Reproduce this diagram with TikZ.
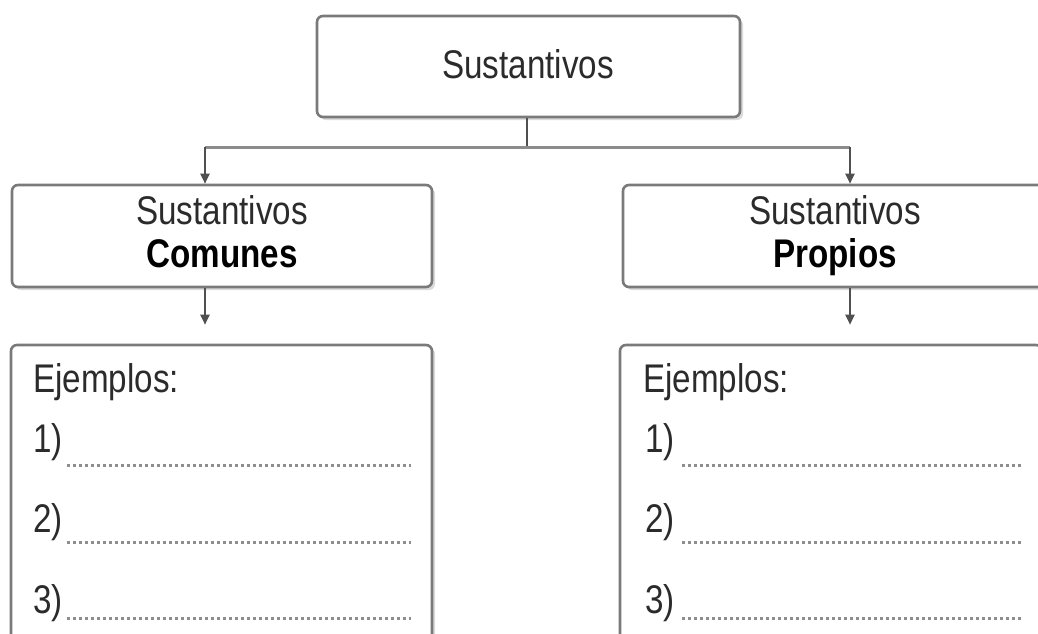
\documentclass[tikz,border=0pt]{standalone}
\usepackage{fontspec}
\setmainfont{Liberation Sans}[FakeStretch=0.83]
\usetikzlibrary{arrows.meta,shadows}
\definecolor{boxline}{HTML}{7A7A7A}
\definecolor{conn}{HTML}{505050}
\definecolor{hline}{HTML}{8C8C8C}
\definecolor{txt}{HTML}{2B2B2B}
\definecolor{dotc}{HTML}{8E8E8E}
\begin{document}
\begin{tikzpicture}[x=1pt,y=-1pt,
  box/.style={draw=boxline, line width=2.6pt, rounded corners=6pt, fill=white,
    drop shadow={shadow xshift=3pt, shadow yshift=-3pt, fill=black!14, opacity=1}},
  lbl/.style={text=txt, font=\fontsize{40}{44}\selectfont, inner sep=0pt},
  arr/.style={draw=conn, line width=2pt, -{Triangle[length=10pt,width=9pt]}},
  dotline/.style={draw=dotc, line width=3pt, dash pattern=on 3pt off 3pt}]
\useasboundingbox (0,0) rectangle (1038,633);
\clip (0,0) rectangle (1038,633);
\fill[white] (0,0) rectangle (1038,633);

% boxes
\node[box, minimum width=423pt, minimum height=101pt] (top) at (528.5,66.5) {};
\node[box, minimum width=420pt, minimum height=102pt] (cl) at (222,236) {};
\node[box, minimum width=422pt, minimum height=102pt] (cp) at (834,236) {};
\node[box, minimum width=421pt, minimum height=355pt] (el) at (221.5,522.5) {};
\node[box, minimum width=422pt, minimum height=355pt] (ep) at (831,522.5) {};

% texts
\node[lbl, anchor=base] (ttop) at (528,78) {Sustantivos};
\node[lbl, anchor=base] (tcl1) at (222,224) {Sustantivos};
\node[lbl, anchor=base] (tcl2) at (222,267) {\textbf{\color{black}Comunes}};
\node[lbl, anchor=base] (tcp1) at (835,224) {Sustantivos};
\node[lbl, anchor=base] (tcp2) at (835,267) {\textbf{\color{black}Propios}};

\node[lbl, anchor=base west] (el0) at (33,392) {Ejemplos:};
\node[lbl, anchor=base west] (el1) at (33,452) {1)};
\node[lbl, anchor=base west] (el2) at (33,532) {2)};
\node[lbl, anchor=base west] (el3) at (33,613) {3)};
\node[lbl, anchor=base west] (ep0) at (643,392) {Ejemplos:};
\node[lbl, anchor=base west] (ep1) at (645,452) {1)};
\node[lbl, anchor=base west] (ep2) at (645,532) {2)};
\node[lbl, anchor=base west] (ep3) at (645,613) {3)};

% dotted answer lines
\draw[dotline] (67,465) -- (411,465);
\draw[dotline] (67,542) -- (411,542);
\draw[dotline] (67,618) -- (411,618);
\draw[dotline] (682,465) -- (1023,465);
\draw[dotline] (682,542) -- (1023,542);
\draw[dotline] (682,618) -- (1023,618);

% connectors
\coordinate (jl) at (205,147);
\coordinate (jr) at (850,147);
\draw[draw=conn, line width=2pt] (top.south -| 527,0) -- (527,147);
\draw[draw=hline, line width=3pt] (jl) -- (jr);
\draw[arr] (jl) -- (jl |- cl.north);
\draw[arr] (jr) -- (jr |- cp.north);
\draw[arr, shorten >=19pt] (jl |- cl.south) -- (jl |- el.north);
\draw[arr, shorten >=19pt] (jr |- cp.south) -- (jr |- ep.north);
\end{tikzpicture}
\end{document}
